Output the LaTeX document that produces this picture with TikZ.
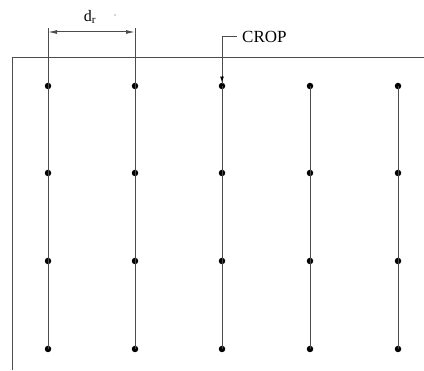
\documentclass[tikz,border=0pt]{standalone}
\usepackage{fontspec}
\setmainfont{Liberation Serif}
\usetikzlibrary{arrows.meta}
\begin{document}
\begin{tikzpicture}[x=1pt,y=-1pt,
  plant/.style={circle,fill=black,inner sep=0pt,minimum size=6.5pt},
  ln/.style={line width=1pt,black!70},
  tip/.style={-{Latex[length=9pt,width=4pt]}}]
\useasboundingbox (0,0) rectangle (424,371);
% border
\draw[ln] (12,370) -- (12,58) -- (424,58);
% plants
\foreach \c/\x in {1/48,2/135,3/222,4/310,5/398}{
  \foreach \r/\y in {1/86,2/173,3/261,4/349}{
    \node[plant] (p\c\r) at (\x,\y) {};
  }
}
\coordinate (e1) at (48,28);
\coordinate (e2) at (135,28);
\draw[ln] (e1) -- (p14.center);
\draw[ln] (e2) -- (p24.center);
\foreach \c in {3,4,5}{\draw[ln] (p\c1.center) -- (p\c4.center);}
% dimension
\coordinate (d1) at (48,32);
\coordinate (d2) at (135,32);
\draw[ln,{Latex[length=9pt,width=4pt]}-{Latex[length=9pt,width=4pt]}] (d1) -- (d2);
\node[font=\fontsize{16}{18}\selectfont] (dr) at (90,17) {d\textsubscript{r}};
\node[circle,fill=black!70,inner sep=0pt,minimum size=1.2pt] (dot) at (115,15) {};
% CROP leader
\node[font=\fontsize{17}{20}\selectfont,anchor=west,inner sep=0pt] (crop) at (242,37) {CROP};
\coordinate (k) at (222,37);
\draw[ln] (crop.west) ++(-5,0) -- (k) -- ([yshift=-1pt]p31.north);
\draw[line width=1pt,-{Latex[length=6pt,width=4pt]}] (222,76) -- (p31.north);
\end{tikzpicture}
\end{document}
